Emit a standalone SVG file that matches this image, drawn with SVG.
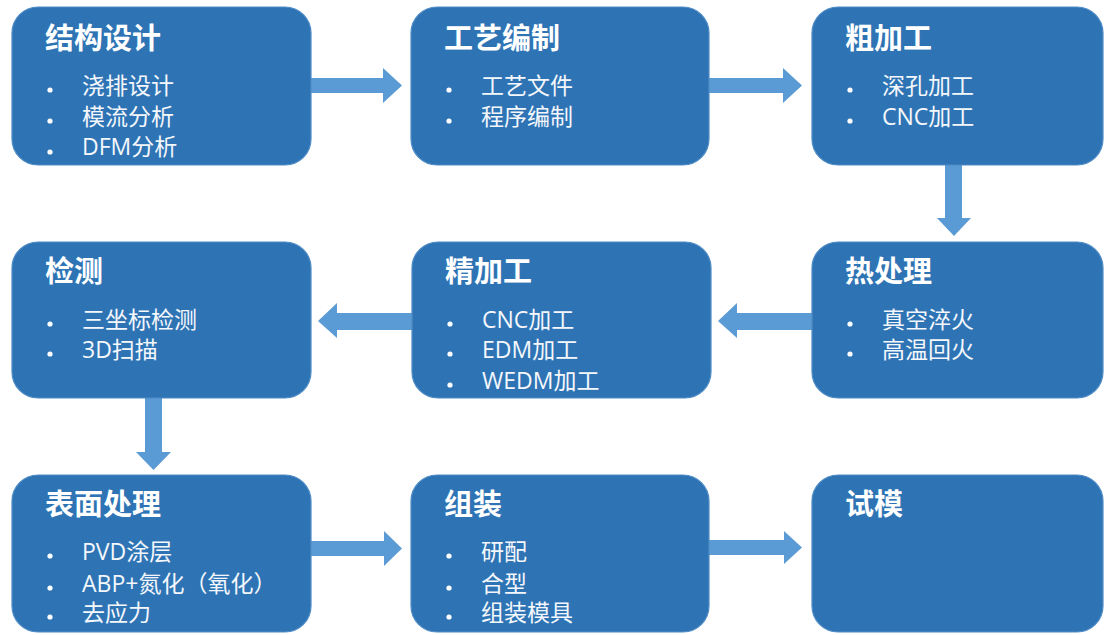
<svg xmlns="http://www.w3.org/2000/svg" width="1107" height="635" viewBox="0 0 1107 635">
<style>
.box{fill:#2E74B5;stroke:#4f8cc6;stroke-width:1.2}
.t{font-family:"Noto Sans CJK SC","Noto Sans",sans-serif;font-size:29px;font-weight:bold;fill:#ffffff}
.i{font-family:"Open Sans","Noto Sans CJK SC",sans-serif;font-size:23px;fill:#f4f7fb}
.b{fill:#ffffff}
.arr{fill:#5B9BD5}
</style>
<rect width="1107" height="635" fill="#ffffff"/>
<g id="connectors">
<polygon class="arr" points="309,78 383,78 383,68 402,85.5 383,103 383,93 309,93"/>
<polygon class="arr" points="709,78 783,78 783,68 802,85.5 783,103 783,93 709,93"/>
<polygon class="arr" points="945,165 962,165 962,218 971,218 954,236 937,218 945,218"/>
<polygon class="arr" points="812,313 737,313 737,303 718,321 737,338 737,330 812,330"/>
<polygon class="arr" points="412,313 337,313 337,303 318,321 337,338 337,330 412,330"/>
<polygon class="arr" points="145,398 162,398 162,452 171,452 153.5,470 136,452 145,452"/>
<polygon class="arr" points="310,541 384,541 384,531 402,548.5 384,566 384,556 310,556"/>
<polygon class="arr" points="709,540 784,540 784,531 802,547.5 784,564 784,555 709,555"/>
</g>
<g id="n1">
<rect class="box" x="12" y="7" width="299" height="158" rx="26"/>
<text class="t" x="45" y="49">结构设计</text>
<circle class="b" cx="50" cy="90" r="2.6"/><text class="i" x="82" y="94">浇排设计</text>
<circle class="b" cx="50" cy="121" r="2.6"/><text class="i" x="82" y="125">模流分析</text>
<circle class="b" cx="50" cy="152" r="2.6"/><text class="i" x="82" y="155">DFM分析</text>
</g>
<g id="n2">
<rect class="box" x="411" y="7" width="298" height="158" rx="26"/>
<text class="t" x="444" y="49">工艺编制</text>
<circle class="b" cx="449" cy="90" r="2.6"/><text class="i" x="481" y="94">工艺文件</text>
<circle class="b" cx="449" cy="121" r="2.6"/><text class="i" x="481" y="125">程序编制</text>
</g>
<g id="n3">
<rect class="box" x="812" y="7" width="291" height="158" rx="26"/>
<text class="t" x="845" y="49">粗加工</text>
<circle class="b" cx="850" cy="90" r="2.6"/><text class="i" x="882" y="94">深孔加工</text>
<circle class="b" cx="850" cy="121" r="2.6"/><text class="i" x="882" y="125">CNC加工</text>
</g>
<g id="n4">
<rect class="box" x="812" y="242" width="291" height="156" rx="26"/>
<text class="t" x="845" y="282">热处理</text>
<circle class="b" cx="850" cy="324" r="2.6"/><text class="i" x="882" y="328">真空淬火</text>
<circle class="b" cx="850" cy="354" r="2.6"/><text class="i" x="882" y="358">高温回火</text>
</g>
<g id="n5">
<rect class="box" x="412" y="242" width="299" height="156" rx="26"/>
<text class="t" x="445" y="282">精加工</text>
<circle class="b" cx="450" cy="324" r="2.6"/><text class="i" x="482" y="328">CNC加工</text>
<circle class="b" cx="450" cy="354" r="2.6"/><text class="i" x="482" y="358">EDM加工</text>
<circle class="b" cx="450" cy="385" r="2.6"/><text class="i" x="482" y="389">WEDM加工</text>
</g>
<g id="n6">
<rect class="box" x="12" y="242" width="299" height="156" rx="26"/>
<text class="t" x="45" y="282">检测</text>
<circle class="b" cx="50" cy="324" r="2.6"/><text class="i" x="82" y="328">三坐标检测</text>
<circle class="b" cx="50" cy="354" r="2.6"/><text class="i" x="82" y="358">3D扫描</text>
</g>
<g id="n7">
<rect class="box" x="12" y="475" width="299" height="157" rx="26"/>
<text class="t" x="45" y="515">表面处理</text>
<circle class="b" cx="50" cy="556" r="2.6"/><text class="i" x="82" y="560">PVD涂层</text>
<circle class="b" cx="50" cy="588" r="2.6"/><text class="i" x="82" y="592">ABP+氮化（氧化）</text>
<circle class="b" cx="50" cy="617" r="2.6"/><text class="i" x="82" y="621">去应力</text>
</g>
<g id="n8">
<rect class="box" x="411" y="475" width="298" height="157" rx="26"/>
<text class="t" x="444" y="515">组装</text>
<circle class="b" cx="449" cy="556" r="2.6"/><text class="i" x="481" y="560">研配</text>
<circle class="b" cx="449" cy="588" r="2.6"/><text class="i" x="481" y="592">合型</text>
<circle class="b" cx="449" cy="617" r="2.6"/><text class="i" x="481" y="621">组装模具</text>
</g>
<g id="n9">
<rect class="box" x="812" y="475" width="291" height="157" rx="26"/>
<text class="t" x="845" y="515">试模</text>
</g>
</svg>
